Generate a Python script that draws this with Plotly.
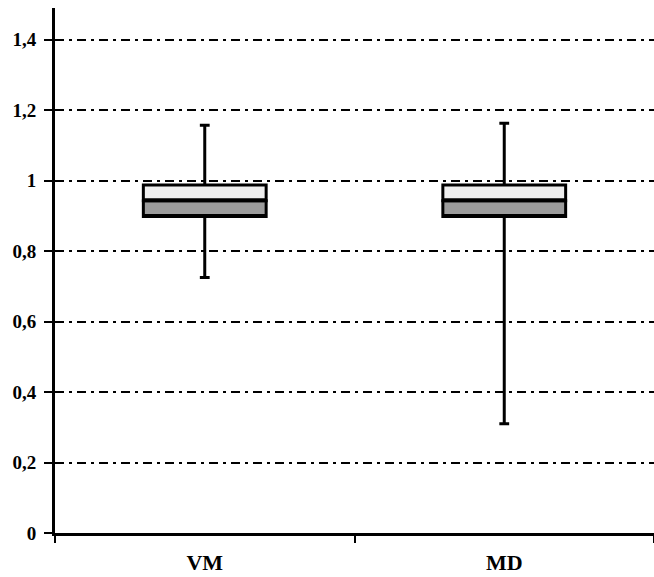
import plotly.graph_objects as go

categories = ["VM", "MD"]
minimum = [0.725, 0.31]
q1 = [0.898, 0.898]
median = [0.943, 0.943]
q3 = [0.988, 0.988]
maximum = [1.157, 1.163]
y_ticks = [0, 0.2, 0.4, 0.6, 0.8, 1.0, 1.2, 1.4]

fig = go.Figure()
# lower half of box (Q1 -> median), grey
fig.add_trace(go.Box(
    x=categories, q1=q1, median=q1, q3=median,
    lowerfence=minimum, upperfence=median,
    fillcolor="#9c9c9c", line=dict(color="black", width=3),
    width=0.41, whiskerwidth=0.08, boxpoints=False, showlegend=False,
))
# upper half of box (median -> Q3), light
fig.add_trace(go.Box(
    x=categories, q1=median, median=median, q3=q3,
    lowerfence=median, upperfence=maximum,
    fillcolor="#eeeeee", line=dict(color="black", width=3),
    width=0.41, whiskerwidth=0.08, boxpoints=False, showlegend=False,
))

yfont = dict(family="Liberation Serif", size=19, color="black", weight="bold")
xfont = dict(family="Liberation Serif", size=22, color="black", weight="bold")
fig.update_layout(
    width=654, height=577,
    margin=dict(l=55, r=0, t=8, b=44),
    paper_bgcolor="white", plot_bgcolor="white",
    boxmode="overlay",
    separators=", ",
    showlegend=False,
    xaxis=dict(
        type="category", range=[-0.5, 1.5],
        showline=True, linecolor="black", linewidth=3,
        ticks="outside", tickson="boundaries", ticklen=7, tickwidth=2, tickcolor="black",
        showgrid=False, tickfont=xfont, ticklabelstandoff=8,
    ),
    yaxis=dict(
        range=[0, 1.49], tickvals=y_ticks,
        showline=True, linecolor="black", linewidth=3,
        ticks="outside", ticklen=8, tickwidth=2, tickcolor="black",
        showgrid=True, gridcolor="black", gridwidth=1.5,
        griddash="9px,5px,3px,5px",
        zeroline=False, tickfont=yfont, ticklabelstandoff=4,
    ),
)

fig.write_html("out.html", config={"displayModeBar": False},
               post_script="document.body.style.margin='0';")
